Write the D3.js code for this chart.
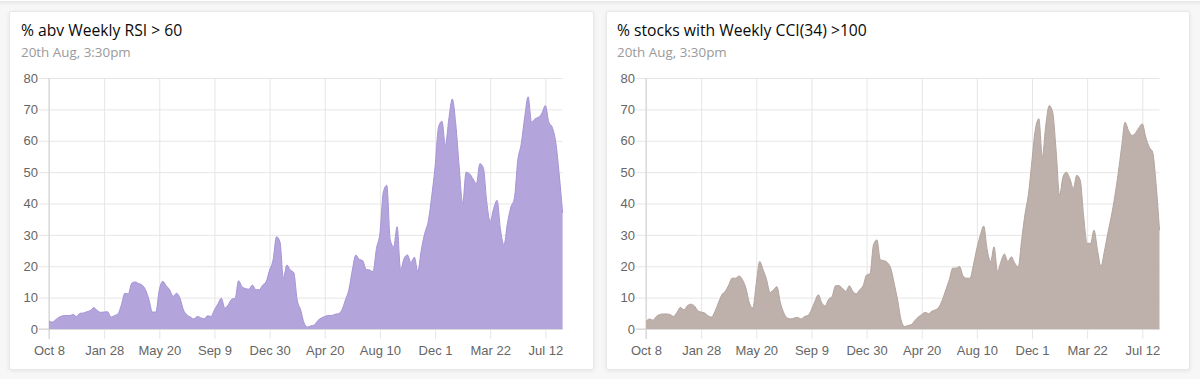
<!DOCTYPE html>
<html>
<head>
<meta charset="utf-8">
<script src="https://cdn.jsdelivr.net/npm/d3@7"></script>
<style>
  html, body { margin: 0; padding: 0; background: #f7f7f7; width: 1200px; height: 379px; overflow: hidden; }
  .card { position: absolute; background: #fff; border: 1px solid #e8e8e8; border-radius: 2px; box-shadow: 0 1px 4px rgba(0,0,0,0.08); }
  svg { position: absolute; left: 0; top: 0; }
</style>
</head>
<body>
<div class="card" style="left:-10px;top:-40px;width:1220px;height:40px;"></div>
<div class="card" style="left:9px;top:11px;width:583px;height:357px;"></div>
<div class="card" style="left:606px;top:11px;width:582px;height:357px;"></div>
<svg id="chart" width="1200" height="379"></svg>
<script>
// ---- data ----
const titles = ["% abv Weekly RSI > 60", "% stocks with Weekly CCI(34) >100"];
const subtitle = "20th Aug, 3:30pm";
const tickLabels = ["Oct 8", "Jan 28", "May 20", "Sep 9", "Dec 30", "Apr 20", "Aug 10", "Dec 1", "Mar 22", "Jul 12"];
const yTicks = [0, 10, 20, 30, 40, 50, 60, 70, 80];

const rsiValues = [
  2.5, 2.2, 3.0, 3.8, 4.2, 4.3, 4.3, 4.6, 4.0, 5.0,
  5.1, 5.5, 5.9, 6.8, 5.9, 5.3, 5.4, 5.5, 3.8, 4.3,
  4.8, 7.7, 11.4, 11.2, 14.6, 15.0, 14.5, 14.0, 12.5, 9.3,
  5.4, 5.4, 12.5, 15.2, 13.8, 12.5, 10.4, 11.4, 9.8, 6.1,
  4.5, 3.8, 3.2, 4.0, 3.6, 3.2, 4.2, 4.0, 6.1, 8.0,
  9.8, 6.7, 7.7, 9.5, 9.8, 15.4, 13.5, 12.9, 12.7, 14.0,
  12.5, 12.5, 14.0, 15.1, 18.8, 22.0, 29.4, 27.8, 16.2, 20.4,
  18.8, 18.0, 9.3, 6.1, 1.9, 0.6, 1.0, 1.3, 2.7, 3.5,
  4.0, 4.3, 4.3, 4.7, 4.9, 6.1, 9.3, 12.5, 18.8, 23.6,
  22.2, 21.8, 19.0, 18.8, 18.3, 25.7, 30.5, 43.7, 45.8, 28.4,
  26.2, 32.6, 18.8, 22.5, 23.6, 21.2, 22.9, 18.3, 25.2, 30.5,
  34.2, 42.1, 51.6, 64.3, 66.2, 58.5, 67.0, 73.3, 65.4, 51.6,
  40.0, 50.0, 49.5, 47.9, 46.3, 52.7, 51.4, 40.5, 34.2, 38.4,
  41.0, 31.5, 26.8, 33.7, 38.9, 41.6, 53.8, 59.0, 67.5, 74.0,
  65.9, 67.0, 67.5, 68.8, 71.2, 65.9, 64.3, 59.6, 49.5, 37.0
];

const cciValues = [
  2.4, 3.2, 2.8, 4.0, 4.6, 4.8, 4.8, 4.6, 4.0, 5.3,
  6.9, 6.1, 7.4, 7.9, 7.4, 5.9, 5.4, 5.1, 4.2, 3.8,
  5.6, 8.3, 10.9, 12.0, 14.0, 16.2, 16.2, 16.9, 15.7, 13.0,
  8.3, 6.7, 14.6, 21.5, 18.8, 15.7, 11.6, 12.5, 13.5, 8.3,
  5.1, 3.5, 3.2, 3.5, 3.7, 3.2, 4.0, 4.3, 6.1, 8.8,
  10.9, 8.3, 7.4, 9.5, 10.4, 13.8, 13.8, 13.0, 12.0, 13.8,
  12.0, 11.2, 12.5, 13.8, 17.2, 17.6, 26.8, 28.4, 22.0, 21.8,
  21.2, 19.4, 14.6, 9.3, 3.0, 0.8, 1.1, 1.4, 2.7, 3.8,
  4.6, 5.3, 4.9, 5.7, 6.1, 7.0, 9.3, 12.5, 15.7, 19.4,
  19.4, 19.9, 16.9, 16.2, 16.2, 20.4, 25.7, 29.9, 32.8, 25.2,
  21.5, 26.2, 18.3, 21.5, 23.9, 21.5, 23.0, 21.0, 19.7, 28.4,
  36.8, 43.2, 53.8, 63.8, 67.0, 54.8, 64.9, 71.2, 69.1, 56.9,
  42.6, 48.5, 50.0, 47.9, 44.8, 49.0, 47.4, 35.8, 27.3, 27.3,
  31.5, 25.2, 19.9, 24.7, 30.5, 35.8, 42.1, 49.5, 58.0, 65.9,
  63.3, 61.7, 62.4, 64.1, 65.4, 61.2, 58.0, 56.4, 46.3, 31.5
];

// weekly category dates (Mondays; 30 Nov 2020 market holiday -> 1 Dec)
const fmtKey = d3.timeFormat("%Y-%m-%d");
const categories = d3.timeMonday.range(new Date(2018, 9, 8), new Date(2021, 7, 17)).map(d => {
  const k = fmtKey(d);
  return k === "2020-11-30" ? "2020-12-01" : k;
});
const parseKey = d3.timeParse("%Y-%m-%d");
const fmtLabel = d3.timeFormat("%b %-d");

// ---- drawing ----
const svg = d3.select("#chart");
const panels = [
  { left: 49, right: 562.6, titleX: 21, values: rsiValues, fill: "#b3a5dc", stroke: "#a594d6", title: titles[0] },
  { left: 646, right: 1159.5, titleX: 617, values: cciValues, fill: "#beb0aa", stroke: "#b3a49e", title: titles[1] }
];
const plotTop = 78, plotBottom = 329;
const gridColor = "#e6e6e6";

panels.forEach(p => {
  const g = svg.append("g");
  g.append("text").attr("x", p.titleX).attr("y", 36)
    .attr("font-family", "'Open Sans', sans-serif").attr("font-size", 15.7).attr("fill", "#0a0a0a")
    .text(p.title);
  g.append("text").attr("x", p.titleX).attr("y", 57)
    .attr("font-family", "'Open Sans', sans-serif").attr("font-size", 13.4).attr("fill", "#9a9a9a")
    .text(subtitle);

  const x = d3.scalePoint().domain(categories).range([p.left, p.right]);
  const y = d3.scaleLinear().domain([0, 80]).range([plotBottom, plotTop]);
  const tickVals = categories.filter(c => tickLabels.includes(fmtLabel(parseKey(c))));

  // horizontal grid + y axis
  const yAxis = d3.axisLeft(y).tickValues(yTicks).tickSize(0).tickPadding(4);
  const ya = g.append("g").attr("transform", `translate(${p.left - 10},0)`).call(yAxis);
  ya.select(".domain").remove();
  ya.selectAll(".tick line").attr("x1", 0).attr("x2", p.right - p.left + 10).attr("stroke", gridColor);
  ya.selectAll("text").attr("font-family", "'Liberation Sans', Arial, sans-serif")
    .attr("font-size", 13).attr("fill", "#666").attr("x", -1);

  // vertical grid + x axis
  const xAxis = d3.axisBottom(x).tickValues(tickVals).tickFormat(c => fmtLabel(parseKey(c)))
    .tickSize(-(plotBottom - plotTop + 10)).tickPadding(7);
  const xa = g.append("g").attr("transform", `translate(0,${plotBottom + 10})`).call(xAxis);
  xa.select(".domain").remove();
  xa.selectAll("line").attr("stroke", gridColor);
  xa.selectAll("text").attr("font-family", "'Liberation Sans', Arial, sans-serif")
    .attr("font-size", 13).attr("fill", "#666");

  // axis lines
  g.append("line").attr("x1", p.left).attr("x2", p.left).attr("y1", plotTop).attr("y2", plotBottom + 10).attr("stroke", "#d0d0d0");
  g.append("line").attr("x1", p.left - 10).attr("x2", p.right).attr("y1", plotBottom).attr("y2", plotBottom).attr("stroke", "#d0d0d0");

  const area = d3.area().x((d, i) => x(categories[i])).y0(y(0)).y1(d => y(d)).curve(d3.curveMonotoneX);
  const line = d3.line().x((d, i) => x(categories[i])).y(d => y(d)).curve(d3.curveMonotoneX);
  g.append("path").datum(p.values).attr("d", area).attr("fill", p.fill);
  g.append("path").datum(p.values).attr("d", line).attr("fill", "none").attr("stroke", p.stroke).attr("stroke-width", 1);
});
</script>
</body>
</html>
